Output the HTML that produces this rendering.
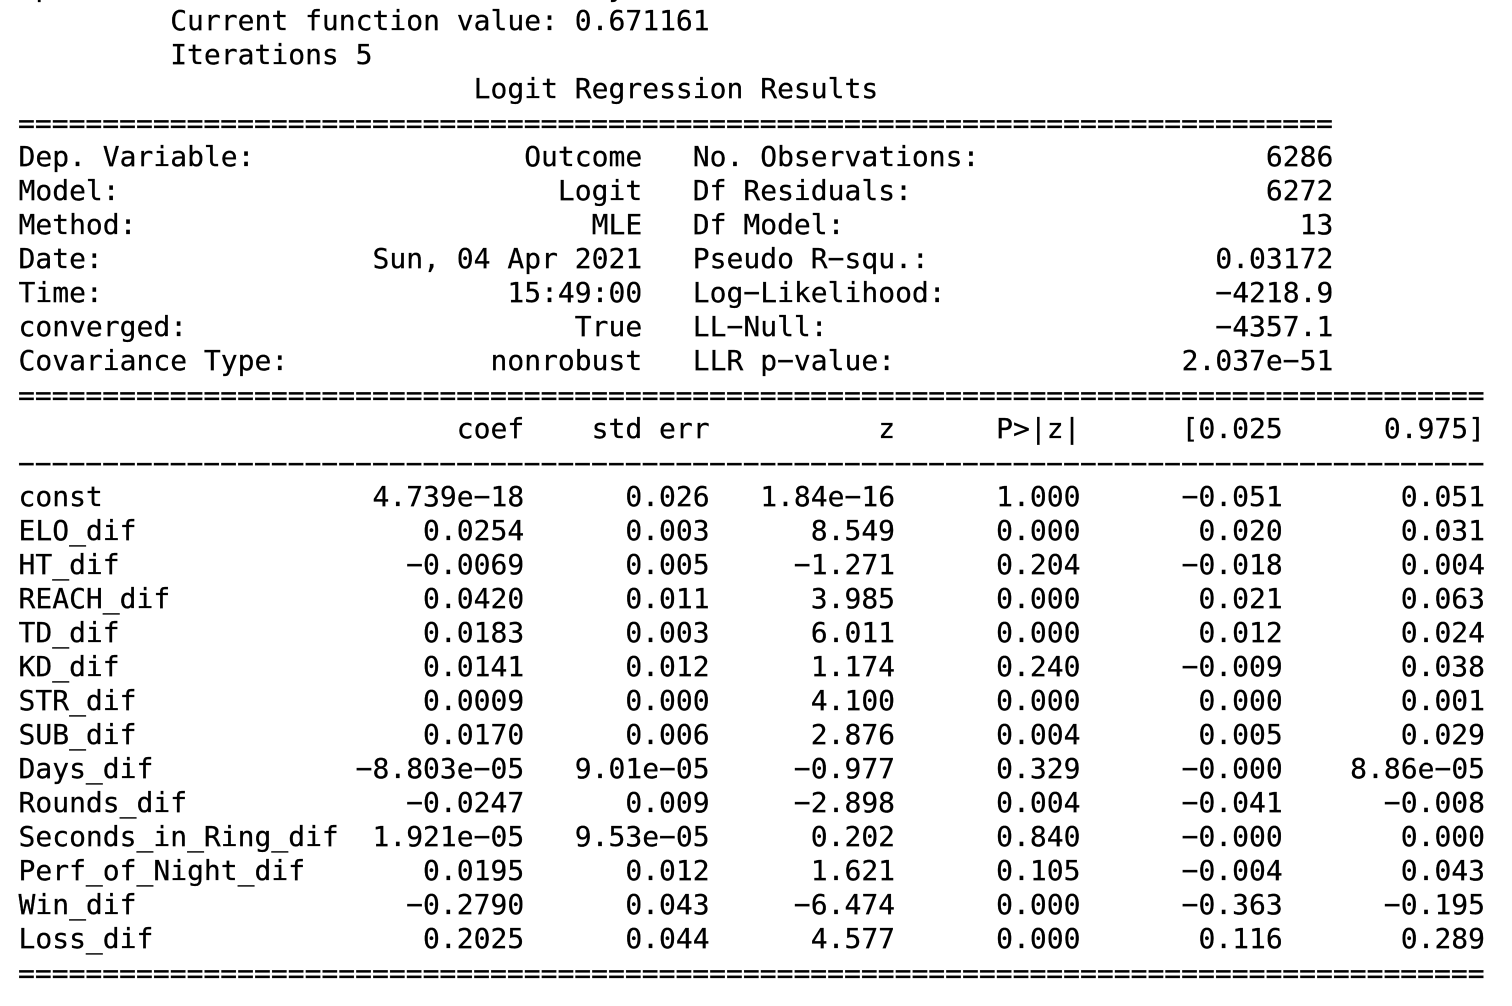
<!DOCTYPE html>
<html lang="en">
<head>
<meta charset="utf-8">
<title>Logit Regression Results</title>
<style>
html,body{margin:0;padding:0;background:#fff;}
body{width:1512px;height:1006px;overflow:hidden;position:relative;}
#out{position:absolute;left:18.5px;top:-30px;font-family:"DejaVu Sans Mono","Liberation Mono",monospace;font-size:28px;line-height:34px;color:#000;white-space:normal;width:1493px;-webkit-text-stroke:0.25px #000;}
.l{height:34px;display:flex;white-space:pre;}
.rule{position:relative;top:1px;left:-0.5px;}
.pair{width:37ch;display:flex;justify-content:space-between;}
.pair2{width:38ch;margin-left:3ch;display:flex;justify-content:space-between;}
.c0{width:19ch;}
.c1,.c2,.c3,.c4{width:11ch;text-align:right;}
.c5,.c6{width:12ch;text-align:right;}
</style>
</head>
<body>
<div id="out">
<div class="l">Optimization terminated successfully.</div>
<div class="l" style="padding-left:9ch">Current function value: 0.671161</div>
<div class="l" style="padding-left:9ch">Iterations 5</div>
<div class="l" style="padding-left:27ch">Logit Regression Results</div>
<div class="l rule">==============================================================================</div>
<div class="l"><span class="pair"><span>Dep. Variable:</span><span>Outcome</span></span><span class="pair2"><span>No. Observations:</span><span>6286</span></span></div>
<div class="l"><span class="pair"><span>Model:</span><span>Logit</span></span><span class="pair2"><span>Df Residuals:</span><span>6272</span></span></div>
<div class="l"><span class="pair"><span>Method:</span><span>MLE</span></span><span class="pair2"><span>Df Model:</span><span>13</span></span></div>
<div class="l"><span class="pair"><span>Date:</span><span>Sun, 04 Apr 2021</span></span><span class="pair2"><span>Pseudo R−squ.:</span><span>0.03172</span></span></div>
<div class="l"><span class="pair"><span>Time:</span><span>15:49:00</span></span><span class="pair2"><span>Log−Likelihood:</span><span>−4218.9</span></span></div>
<div class="l"><span class="pair"><span>converged:</span><span>True</span></span><span class="pair2"><span>LL−Null:</span><span>−4357.1</span></span></div>
<div class="l"><span class="pair"><span>Covariance Type:</span><span>nonrobust</span></span><span class="pair2"><span>LLR p−value:</span><span>2.037e−51</span></span></div>
<div class="l rule">=======================================================================================</div>
<div class="l"><span class="c0"></span><span class="c1">coef</span><span class="c2">std err</span><span class="c3">z</span><span class="c4">P&gt;|z|</span><span class="c5">[0.025</span><span class="c6">0.975]</span></div>
<div class="l rule">−−−−−−−−−−−−−−−−−−−−−−−−−−−−−−−−−−−−−−−−−−−−−−−−−−−−−−−−−−−−−−−−−−−−−−−−−−−−−−−−−−−−−−−</div>
<div class="l"><span class="c0">const</span><span class="c1">4.739e−18</span><span class="c2">0.026</span><span class="c3">1.84e−16</span><span class="c4">1.000</span><span class="c5">−0.051</span><span class="c6">0.051</span></div>
<div class="l"><span class="c0">ELO_dif</span><span class="c1">0.0254</span><span class="c2">0.003</span><span class="c3">8.549</span><span class="c4">0.000</span><span class="c5">0.020</span><span class="c6">0.031</span></div>
<div class="l"><span class="c0">HT_dif</span><span class="c1">−0.0069</span><span class="c2">0.005</span><span class="c3">−1.271</span><span class="c4">0.204</span><span class="c5">−0.018</span><span class="c6">0.004</span></div>
<div class="l"><span class="c0">REACH_dif</span><span class="c1">0.0420</span><span class="c2">0.011</span><span class="c3">3.985</span><span class="c4">0.000</span><span class="c5">0.021</span><span class="c6">0.063</span></div>
<div class="l"><span class="c0">TD_dif</span><span class="c1">0.0183</span><span class="c2">0.003</span><span class="c3">6.011</span><span class="c4">0.000</span><span class="c5">0.012</span><span class="c6">0.024</span></div>
<div class="l"><span class="c0">KD_dif</span><span class="c1">0.0141</span><span class="c2">0.012</span><span class="c3">1.174</span><span class="c4">0.240</span><span class="c5">−0.009</span><span class="c6">0.038</span></div>
<div class="l"><span class="c0">STR_dif</span><span class="c1">0.0009</span><span class="c2">0.000</span><span class="c3">4.100</span><span class="c4">0.000</span><span class="c5">0.000</span><span class="c6">0.001</span></div>
<div class="l"><span class="c0">SUB_dif</span><span class="c1">0.0170</span><span class="c2">0.006</span><span class="c3">2.876</span><span class="c4">0.004</span><span class="c5">0.005</span><span class="c6">0.029</span></div>
<div class="l"><span class="c0">Days_dif</span><span class="c1">−8.803e−05</span><span class="c2">9.01e−05</span><span class="c3">−0.977</span><span class="c4">0.329</span><span class="c5">−0.000</span><span class="c6">8.86e−05</span></div>
<div class="l"><span class="c0">Rounds_dif</span><span class="c1">−0.0247</span><span class="c2">0.009</span><span class="c3">−2.898</span><span class="c4">0.004</span><span class="c5">−0.041</span><span class="c6">−0.008</span></div>
<div class="l"><span class="c0">Seconds_in_Ring_dif</span><span class="c1">1.921e−05</span><span class="c2">9.53e−05</span><span class="c3">0.202</span><span class="c4">0.840</span><span class="c5">−0.000</span><span class="c6">0.000</span></div>
<div class="l"><span class="c0">Perf_of_Night_dif</span><span class="c1">0.0195</span><span class="c2">0.012</span><span class="c3">1.621</span><span class="c4">0.105</span><span class="c5">−0.004</span><span class="c6">0.043</span></div>
<div class="l"><span class="c0">Win_dif</span><span class="c1">−0.2790</span><span class="c2">0.043</span><span class="c3">−6.474</span><span class="c4">0.000</span><span class="c5">−0.363</span><span class="c6">−0.195</span></div>
<div class="l"><span class="c0">Loss_dif</span><span class="c1">0.2025</span><span class="c2">0.044</span><span class="c3">4.577</span><span class="c4">0.000</span><span class="c5">0.116</span><span class="c6">0.289</span></div>
<div class="l rule">=======================================================================================</div>
</div>
</body>
</html>
